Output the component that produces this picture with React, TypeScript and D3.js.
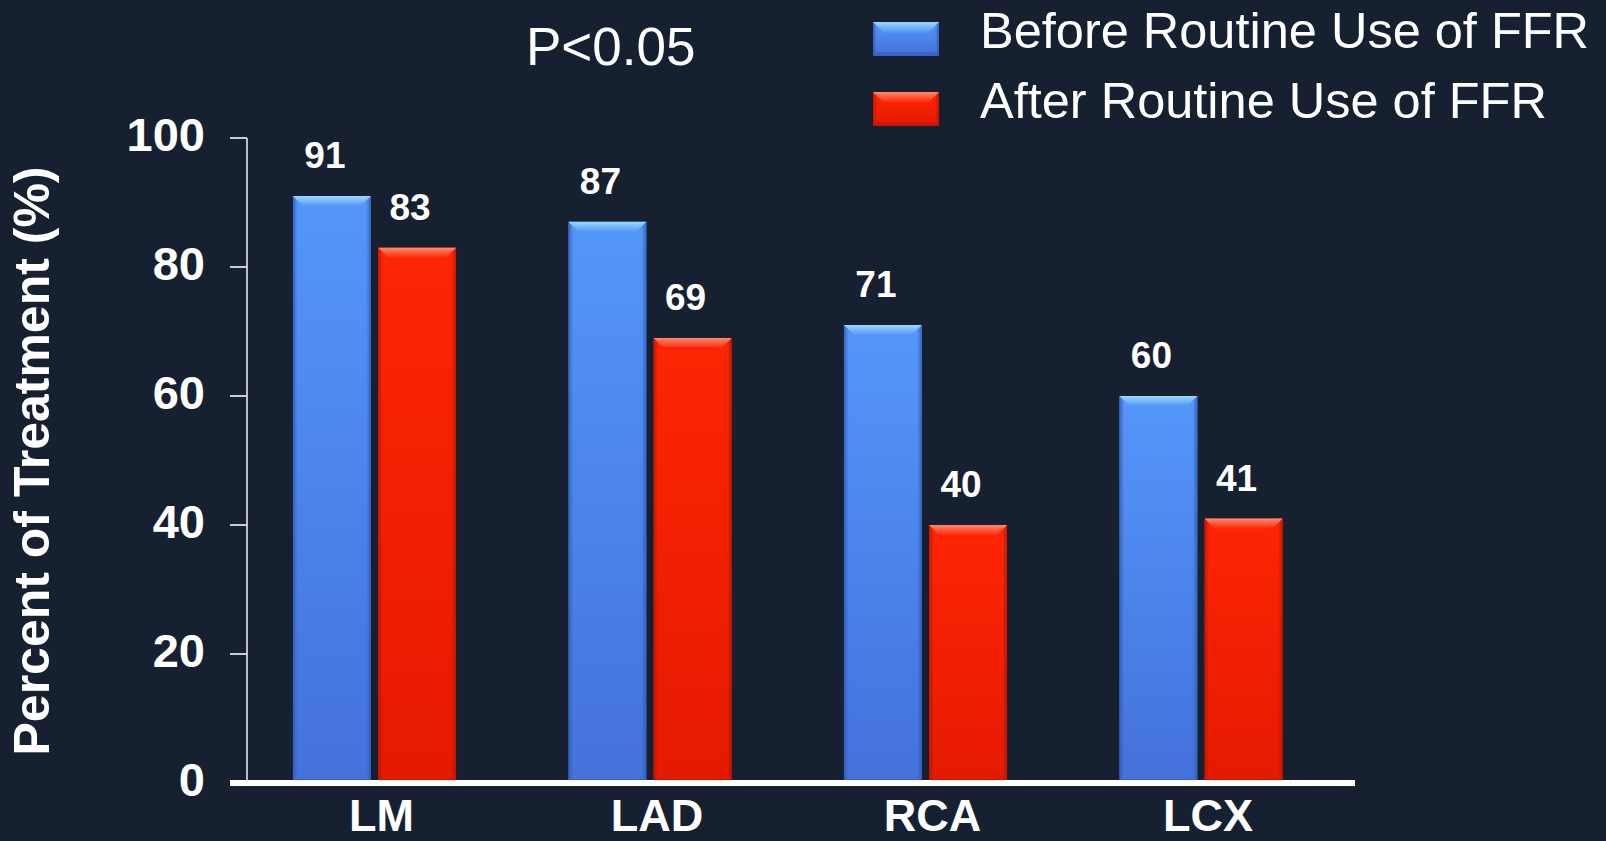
import React from "react";
import * as d3 from "d3";

const categories = ["LM", "LAD", "RCA", "LCX"];
const seriesNames = ["Before Routine Use of FFR", "After Routine Use of FFR"];
const beforeValues = [91, 87, 71, 60];
const afterValues = [83, 69, 40, 41];
const yTicks = [0, 20, 40, 60, 80, 100];
const pValueText = "P<0.05";
const yTitle = "Percent of Treatment (%)";

const W = 1606;
const H = 841;
const BG = "#162030";

type Palette = { main: string; top: string; bottom: string; edge: string; bevelTop: string; bevelBottom: string };

const palettes: Palette[] = [
  { main: "#4f8ff6", top: "#5496fa", bottom: "#4472da", edge: "#2f57b0", bevelTop: "#9ad8ff", bevelBottom: "#3358b0" },
  { main: "#ff2000", top: "#ff2505", bottom: "#e41a00", edge: "#b81400", bevelTop: "#ff8a6c", bevelBottom: "#b51300" },
];

function BevelBar({ x, y, w, h, idx }: { x: number; y: number; w: number; h: number; idx: number }) {
  const p = palettes[idx];
  const b = Math.min(11, h / 3);
  const e = 4;
  return (
    <g>
      <rect x={x} y={y} width={w} height={h} fill={`url(#vg${idx})`} />
      <rect x={x} y={y} width={w} height={h} fill={`url(#hg${idx})`} />
      <polygon
        points={`${x},${y} ${x + w},${y} ${x + w - b},${y + b} ${x + b},${y + b}`}
        fill={`url(#tg${idx})`}
      />
      <polygon
        points={`${x},${y + h} ${x + w},${y + h} ${x + w - e},${y + h - e} ${x + e},${y + h - e}`}
        fill={p.bevelBottom}
        opacity={0.55}
      />
    </g>
  );
}

export default function App() {
  const y = d3.scaleLinear().domain([0, 100]).range([783, 138]);
  const x0 = d3
    .scaleBand<string>()
    .domain(categories)
    .range([236.75, 1338.75])
    .paddingInner(0.408)
    .paddingOuter(0.204);
  const x1 = d3
    .scaleBand<string>()
    .domain(seriesNames)
    .range([0, x0.bandwidth()])
    .paddingInner(0.085);

  const rows = categories.map((c, i) => ({ cat: c, vals: [beforeValues[i], afterValues[i]] }));

  return (
    <svg
      width={W}
      height={H}
      style={{ position: "absolute", left: 0, top: 0, display: "block", background: BG }}
      fontFamily="'Liberation Sans', Arial, sans-serif"
    >
      <defs>
        {palettes.map((p, i) => (
          <React.Fragment key={i}>
            <linearGradient id={`vg${i}`} x1="0" y1="0" x2="0" y2="1">
              <stop offset="0%" stopColor={p.top} />
              <stop offset="100%" stopColor={p.bottom} />
            </linearGradient>
            <linearGradient id={`hg${i}`} x1="0" y1="0" x2="1" y2="0">
              <stop offset="0%" stopColor={p.edge} stopOpacity={0.8} />
              <stop offset="6%" stopColor={p.edge} stopOpacity={0} />
              <stop offset="94%" stopColor={p.edge} stopOpacity={0} />
              <stop offset="100%" stopColor={p.edge} stopOpacity={0.8} />
            </linearGradient>
            <linearGradient id={`tg${i}`} x1="0" y1="0" x2="0" y2="1">
              <stop offset="0%" stopColor={p.bevelTop} />
              <stop offset="100%" stopColor={p.main} />
            </linearGradient>
          </React.Fragment>
        ))}
      </defs>

      <rect x={0} y={0} width={W} height={H} fill={BG} />

      {/* y axis line and ticks */}
      <line x1={247} x2={247} y1={y(100)} y2={y(0)} stroke="#b9bec8" strokeWidth={2} />
      {yTicks.map((t) => (
        <g key={t}>
          {t > 0 && <line x1={230} x2={247} y1={y(t)} y2={y(t)} stroke="#c8ccd4" strokeWidth={2} />}
          <text
            x={205}
            y={y(t) - 4}
            textAnchor="end"
            dominantBaseline="central"
            fontSize={47}
            fontWeight="bold"
            fill="#ffffff"
          >
            {t}
          </text>
        </g>
      ))}

      {/* bars */}
      {rows.map((r) => (
        <g key={r.cat} transform={`translate(${x0(r.cat)},0)`}>
          {r.vals.map((v, j) => {
            const bx = x1(seriesNames[j])!;
            const bw = x1.bandwidth();
            const top = y(v);
            return (
              <g key={j}>
                <BevelBar x={bx} y={top} w={bw} h={y(0) - top} idx={j} />
                <text
                  x={bx + bw / 2 - 7}
                  y={top - 28}
                  textAnchor="middle"
                  fontSize={37}
                  fontWeight="bold"
                  fill="#ffffff"
                >
                  {v}
                </text>
              </g>
            );
          })}
        </g>
      ))}

      {/* baseline */}
      <line x1={230} x2={1355} y1={y(0)} y2={y(0)} stroke="#ffffff" strokeWidth={6} />

      {/* category labels */}
      {categories.map((c) => (
        <text
          key={c}
          x={x0(c)! + x0.bandwidth() / 2 + 7}
          y={831}
          textAnchor="middle"
          fontSize={45}
          fontWeight="bold"
          fill="#ffffff"
        >
          {c}
        </text>
      ))}

      {/* y title */}
      <text
        transform={`translate(49,461) rotate(-90)`}
        textAnchor="middle"
        fontSize={50}
        fontWeight="bold"
        fill="#ffffff"
      >
        {yTitle}
      </text>

      {/* significance */}
      <text x={526} y={65} fontSize={53} fill="#ffffff">
        {pValueText}
      </text>

      {/* legend */}
      {seriesNames.map((s, i) => (
        <g key={s} transform={`translate(873,${22 + i * 70})`}>
          <BevelBar x={0} y={0} w={66} h={34} idx={i} />
          <text x={107} y={26} fontSize={50.5} fill="#ffffff">
            {s}
          </text>
        </g>
      ))}
    </svg>
  );
}
